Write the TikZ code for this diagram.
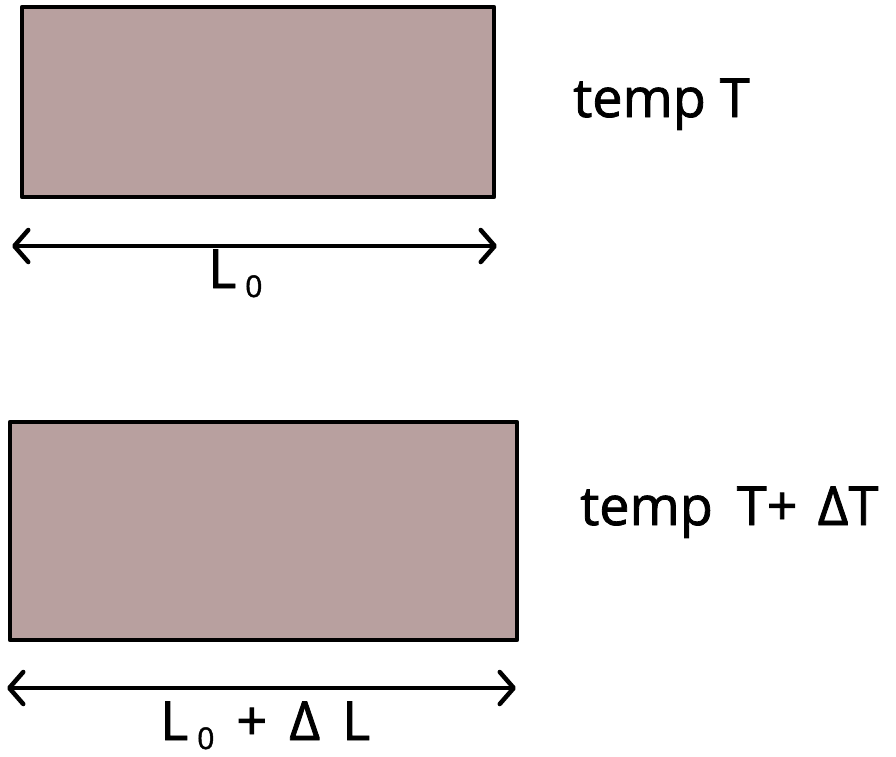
\documentclass[tikz,border=0pt]{standalone}
\usepackage{fontspec}
\setmainfont{Open Sans}
\newfontfamily\handfont[FakeBold=1.5]{Open Sans}
\usetikzlibrary{arrows.meta}
\definecolor{barfill}{RGB}{184,160,159}
\newcommand{\subo}{{\fontsize{30}{30}\selectfont\raisebox{-9pt}{0}}}
\tikzset{
  bar/.style={draw=black, fill=barfill, line width=4.5pt, line join=round},
  dimline/.style={line width=4.5pt, line cap=round, {Straight Barb[length=14pt,width=32pt,line width=4.5pt,round]}-{Straight Barb[length=14pt,width=32pt,line width=4.5pt,round]}},
  lbl/.style={inner sep=0pt, font=\handfont\fontsize{54}{58}\selectfont}
}
\begin{document}
\begin{tikzpicture}[x=1pt,y=-1pt]
\useasboundingbox (0,0) rectangle (896,756);
% top bar
\coordinate (r1a) at (22,7);
\coordinate (r1b) at (494,197);
\path[bar] (r1a) rectangle (r1b);
\coordinate (a1l) at (12,246);
\coordinate (a1r) at (497,246);
\draw[dimline] (a1l) -- (a1r);
\node[lbl, anchor=base west] (l1) at (208,288) {L\,\subo};
\node[lbl, anchor=base west] (t1) at (573,117) {temp T};
% bottom bar
\coordinate (r2a) at (10,422);
\coordinate (r2b) at (517,640);
\path[bar] (r2a) rectangle (r2b);
\coordinate (a2l) at (7,688);
\coordinate (a2r) at (516,688);
\draw[dimline] (a2l) -- (a2r);
\node[lbl, anchor=base west] (l2) at (160,740) {L\,\subo\hspace{22pt}+\hspace{22pt}Δ\hspace{22pt}L};
\node[lbl, anchor=base west] (t2) at (580,525) {temp \hspace{10pt}T+\hspace{20pt}ΔT};
\end{tikzpicture}
\end{document}
